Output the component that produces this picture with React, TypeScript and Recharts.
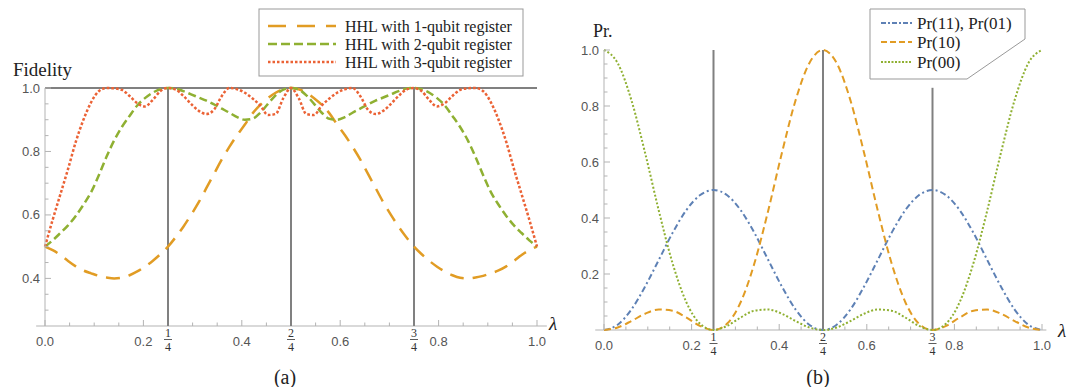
import React from 'react';
import { LineChart, Line, XAxis, YAxis, ReferenceLine } from 'recharts';

// ---- panel (a): fidelity vs lambda, sampled every 1/64 ----
const lambdaA = [
  0, 0.015625, 0.03125, 0.046875, 0.0625, 0.078125, 0.09375, 0.109375, 0.125, 0.140625, 0.15625,
  0.171875, 0.1875, 0.203125, 0.21875, 0.234375, 0.25, 0.265625, 0.28125, 0.296875, 0.3125,
  0.328125, 0.34375, 0.359375, 0.375, 0.390625, 0.40625, 0.421875, 0.4375, 0.453125, 0.46875,
  0.484375, 0.5, 0.515625, 0.53125, 0.546875, 0.5625, 0.578125, 0.59375, 0.609375, 0.625,
  0.640625, 0.65625, 0.671875, 0.6875, 0.703125, 0.71875, 0.734375, 0.75, 0.765625, 0.78125,
  0.796875, 0.8125, 0.828125, 0.84375, 0.859375, 0.875, 0.890625, 0.90625, 0.921875, 0.9375,
  0.953125, 0.96875, 0.984375, 1,
];
const fidelity1 = [
  0.5, 0.489, 0.474, 0.455, 0.438, 0.425, 0.416, 0.408, 0.403, 0.4, 0.402, 0.41, 0.422, 0.437,
  0.455, 0.476, 0.5, 0.53, 0.563, 0.6, 0.64, 0.685, 0.73, 0.775, 0.815, 0.852, 0.885, 0.92, 0.947,
  0.968, 0.985, 0.996, 1.0, 0.996, 0.985, 0.968, 0.947, 0.92, 0.885, 0.852, 0.815, 0.775, 0.73,
  0.685, 0.64, 0.6, 0.563, 0.53, 0.5, 0.476, 0.455, 0.437, 0.422, 0.41, 0.402, 0.4, 0.403, 0.408,
  0.416, 0.425, 0.438, 0.455, 0.474, 0.489, 0.5,
];
const fidelity2 = [
  0.5, 0.52, 0.543, 0.567, 0.597, 0.632, 0.672, 0.725, 0.783, 0.835, 0.877, 0.912, 0.945, 0.968,
  0.985, 0.996, 1.0, 0.998, 0.99, 0.98, 0.97, 0.96, 0.948, 0.935, 0.922, 0.908, 0.9, 0.903, 0.922,
  0.95, 0.977, 0.995, 1.0, 0.995, 0.977, 0.95, 0.922, 0.903, 0.9, 0.908, 0.922, 0.935, 0.948, 0.96,
  0.97, 0.98, 0.99, 0.998, 1.0, 0.996, 0.985, 0.968, 0.945, 0.912, 0.877, 0.835, 0.783, 0.725,
  0.672, 0.632, 0.597, 0.567, 0.543, 0.52, 0.5,
];
const fidelity3 = [
  0.5, 0.585, 0.665, 0.745, 0.83, 0.9, 0.955, 0.99, 1.0, 0.999, 0.994, 0.975, 0.952, 0.942, 0.962,
  0.99, 1.0, 0.995, 0.975, 0.95, 0.928, 0.918, 0.932, 0.975, 1.0, 0.996, 0.985, 0.967, 0.945, 0.915,
  0.918, 0.968, 1.0, 0.968, 0.918, 0.915, 0.945, 0.967, 0.985, 0.996, 1.0, 0.975, 0.932, 0.918,
  0.928, 0.95, 0.975, 0.995, 1.0, 0.99, 0.962, 0.942, 0.952, 0.975, 0.994, 0.999, 1.0, 0.99, 0.955,
  0.9, 0.83, 0.745, 0.665, 0.585, 0.5,
];

// ---- panel (b): measurement probabilities, sampled every 1/32 ----
const lambdaB = [
  0, 0.03125, 0.0625, 0.09375, 0.125, 0.15625, 0.1875, 0.21875, 0.25, 0.28125, 0.3125, 0.34375,
  0.375, 0.40625, 0.4375, 0.46875, 0.5, 0.53125, 0.5625, 0.59375, 0.625, 0.65625, 0.6875, 0.71875,
  0.75, 0.78125, 0.8125, 0.84375, 0.875, 0.90625, 0.9375, 0.96875, 1,
];
const pr11 = [
  0, 0.019, 0.073, 0.155, 0.25, 0.346, 0.427, 0.481, 0.5, 0.481, 0.427, 0.346, 0.25, 0.155, 0.073,
  0.019, 0, 0.019, 0.073, 0.155, 0.25, 0.346, 0.427, 0.481, 0.5, 0.481, 0.427, 0.346, 0.25, 0.155,
  0.073, 0.019, 0,
];
const pr10 = [
  0, 0.009, 0.032, 0.058, 0.073, 0.069, 0.045, 0.015, 0, 0.023, 0.101, 0.24, 0.427, 0.633, 0.821,
  0.953, 1, 0.953, 0.821, 0.633, 0.427, 0.24, 0.101, 0.023, 0, 0.015, 0.045, 0.069, 0.073, 0.058,
  0.032, 0.009, 0,
];
const pr00 = [
  1, 0.953, 0.821, 0.633, 0.427, 0.24, 0.101, 0.023, 0, 0.015, 0.045, 0.069, 0.073, 0.058, 0.032,
  0.009, 0, 0.009, 0.032, 0.058, 0.073, 0.069, 0.045, 0.015, 0, 0.023, 0.101, 0.24, 0.427, 0.633,
  0.821, 0.953, 1,
];

// ticks
const xTicks = [
  0, 0.05, 0.1, 0.15, 0.2, 0.25, 0.3, 0.35, 0.4, 0.45, 0.5, 0.55, 0.6, 0.65, 0.7, 0.75, 0.8, 0.85,
  0.9, 0.95, 1,
];
const xMajor = [0, 0.2, 0.4, 0.6, 0.8, 1];
const fractionTicks = [
  { value: 0.25, num: '1', den: '4' },
  { value: 0.5, num: '2', den: '4' },
  { value: 0.75, num: '3', den: '4' },
];
const yTicksA = [0.3, 0.35, 0.4, 0.45, 0.5, 0.55, 0.6, 0.65, 0.7, 0.75, 0.8, 0.85, 0.9, 0.95, 1];
const yMajorA = [0.4, 0.6, 0.8, 1];
const yTicksB = [
  0.05, 0.1, 0.15, 0.2, 0.25, 0.3, 0.35, 0.4, 0.45, 0.5, 0.55, 0.6, 0.65, 0.7, 0.75, 0.8, 0.85, 0.9,
  0.95, 1,
];
const yMajorB = [0.2, 0.4, 0.6, 0.8, 1];

// vertical marker lines at 1/4, 2/4, 3/4
const markerLambdas = [0.25, 0.5, 0.75];
const markerTopsB = [1, 1, 0.865];

const legendA = ['HHL with 1-qubit register', 'HHL with 2-qubit register', 'HHL with 3-qubit register'];
const legendB = ['Pr(11), Pr(01)', 'Pr(10)', 'Pr(00)'];

const ORANGE = '#E19C24';
const GREEN = '#8FB032';
const RED = '#EB6235';
const BLUE = '#5E81B5';
const AXIS = '#b3b3b3';
const MARK = '#808080';
const SANS = '"Liberation Sans", Arial, sans-serif';
const SERIF = '"Liberation Serif", serif';

const dataA = lambdaA.map((l, i) => ({ lambda: l, q1: fidelity1[i], q2: fidelity2[i], q3: fidelity3[i] }));
const dataB = lambdaB.map((l, i) => ({ lambda: l, p11: pr11[i], p10: pr10[i], p00: pr00[i] }));

const near = (a: number, b: number) => Math.abs(a - b) < 1e-6;

const serifStyle = { fontFamily: SERIF };

const renderXTick = (props: any) => {
  const { x, y, payload } = props;
  const v = payload.value;
  const major = xMajor.some((m) => near(m, v));
  const frac = fractionTicks.find((f) => near(f.value, v));
  return (
    <g key={`xt-${v}`}>
      {!frac && <line x1={x} x2={x} y1={y} y2={y - (major ? 6 : 3.5)} stroke={AXIS} strokeWidth={1} />}
      {major && (
        <text x={x} y={y + 15} textAnchor="middle" dominantBaseline="central" fontSize={13} style={{ fontFamily: SANS }} fill="#555">
          {v.toFixed(1)}
        </text>
      )}
      {frac && (
        <g>
          <text x={x} y={y + 7} textAnchor="middle" dominantBaseline="central" fontSize={12} style={serifStyle} fill="#333">
            {frac.num}
          </text>
          <line x1={x - 4} x2={x + 4} y1={y + 13.5} y2={y + 13.5} stroke="#333" strokeWidth={0.8} />
          <text x={x} y={y + 21} textAnchor="middle" dominantBaseline="central" fontSize={12} style={serifStyle} fill="#333">
            {frac.den}
          </text>
        </g>
      )}
    </g>
  );
};

const makeYTick = (majors: number[]) => (props: any) => {
  const { x, y, payload } = props;
  const v = payload.value;
  const major = majors.some((m) => near(m, v));
  return (
    <g key={`yt-${v}`}>
      <line x1={x} x2={x + (major ? 6 : 3.5)} y1={y} y2={y} stroke={AXIS} strokeWidth={1} />
      {major && (
        <text x={x - 5} y={y} textAnchor="end" dominantBaseline="central" fontSize={13} style={{ fontFamily: SANS }} fill="#555">
          {v.toFixed(1)}
        </text>
      )}
    </g>
  );
};

function LegendRow({ x1, x2, y, color, dash, width, label, tx, size }: any) {
  return (
    <g>
      <line x1={x1} x2={x2} y1={y} y2={y} stroke={color} strokeWidth={width} strokeDasharray={dash} />
      <text x={tx} y={y} dominantBaseline="central" fontSize={size} style={serifStyle} fill="#222">
        {label}
      </text>
    </g>
  );
}

export default function App() {
  return (
    <div style={{ position: 'absolute', left: 0, top: 0, width: 1077, height: 387, background: '#fff', overflow: 'hidden' }}>
      <div style={{ position: 'absolute', left: 0, top: 0 }}>
        <LineChart width={570} height={387} data={dataA} margin={{ top: 88, right: 33, bottom: 31, left: 5 }}>
          <XAxis
            dataKey="lambda"
            type="number"
            domain={[0, 1]}
            ticks={xTicks}
            interval={0}
            tickSize={0}
            tickMargin={0}
            tickLine={false}
            axisLine={false}
            height={30}
            tick={renderXTick}
          />
          <YAxis
            type="number"
            domain={[0.25, 1]}
            ticks={yTicksA}
            interval={0}
            width={40}
            tickSize={0}
            tickMargin={0}
            tickLine={false}
            axisLine={{ stroke: AXIS }}
            tick={makeYTick(yMajorA)}
          />
          <ReferenceLine
            segment={[{ x: -0.018, y: 0.25 }, { x: 1.02, y: 0.25 }]}
            stroke={AXIS}
            strokeWidth={1}
            ifOverflow="visible"
          />
          <ReferenceLine y={1} stroke={MARK} strokeWidth={2} ifOverflow="visible" />
          {markerLambdas.map((m) => (
            <ReferenceLine key={`ma-${m}`} segment={[{ x: m, y: 0.25 }, { x: m, y: 1 }]} stroke={MARK} strokeWidth={2} />
          ))}
          <Line type="monotone" dataKey="q1" stroke={ORANGE} strokeWidth={2.5} strokeDasharray="14 9" dot={false} activeDot={false} isAnimationActive={false} />
          <Line type="monotone" dataKey="q2" stroke={GREEN} strokeWidth={2.5} strokeDasharray="8 4" dot={false} activeDot={false} isAnimationActive={false} />
          <Line type="monotone" dataKey="q3" stroke={RED} strokeWidth={2.5} strokeDasharray="2.7 2" dot={false} activeDot={false} isAnimationActive={false} />
        </LineChart>
      </div>

      <div style={{ position: 'absolute', left: 540, top: 0 }}>
        <LineChart width={537} height={387} data={dataB} margin={{ top: 50, right: 35, bottom: 27, left: 4 }}>
          <XAxis
            dataKey="lambda"
            type="number"
            domain={[0, 1]}
            ticks={xTicks}
            interval={0}
            tickSize={0}
            tickMargin={0}
            tickLine={false}
            axisLine={false}
            height={30}
            tick={renderXTick}
          />
          <YAxis
            type="number"
            domain={[0, 1]}
            ticks={yTicksB}
            interval={0}
            width={60}
            tickSize={0}
            tickMargin={0}
            tickLine={false}
            axisLine={{ stroke: AXIS }}
            tick={makeYTick(yMajorB)}
          />
          <ReferenceLine
            segment={[{ x: -0.02, y: 0 }, { x: 1.01, y: 0 }]}
            stroke={AXIS}
            strokeWidth={1}
            ifOverflow="visible"
          />
          {markerLambdas.map((m, i) => (
            <ReferenceLine key={`mb-${m}`} segment={[{ x: m, y: 0 }, { x: m, y: markerTopsB[i] }]} stroke={MARK} strokeWidth={2} />
          ))}
          <Line type="monotone" dataKey="p11" stroke={BLUE} strokeWidth={2} strokeDasharray="6 3 2 3" dot={false} activeDot={false} isAnimationActive={false} />
          <Line type="monotone" dataKey="p10" stroke={ORANGE} strokeWidth={2} strokeDasharray="7 4" dot={false} activeDot={false} isAnimationActive={false} />
          <Line type="monotone" dataKey="p00" stroke={GREEN} strokeWidth={2} strokeDasharray="2 2" dot={false} activeDot={false} isAnimationActive={false} />
        </LineChart>
      </div>

      <svg width={1077} height={387} style={{ position: 'absolute', left: 0, top: 0, pointerEvents: 'none' }}>
        {/* panel (a) texts */}
        <text x={13} y={69} dominantBaseline="central" fontSize={19} style={serifStyle} fill="#222">Fidelity</text>
        <text x={553} y={323} textAnchor="middle" dominantBaseline="central" fontSize={19} fontStyle="italic" style={serifStyle} fill="#222">λ</text>
        <text x={285} y={377} textAnchor="middle" dominantBaseline="central" fontSize={20} style={serifStyle} fill="#222">(a)</text>
        <rect x={259} y={9} width={264} height={67} fill="#fff" stroke="#999" strokeWidth={1} />
        <LegendRow x1={268} x2={336} y={26} color={ORANGE} dash="18 11" width={2.5} label={legendA[0]} tx={345} size={16} />
        <LegendRow x1={268} x2={336} y={44} color={GREEN} dash="9 4" width={2.5} label={legendA[1]} tx={345} size={16} />
        <LegendRow x1={268} x2={336} y={62} color={RED} dash="2.5 2" width={2.5} label={legendA[2]} tx={345} size={16} />

        {/* panel (b) texts */}
        <text x={593} y={31} dominantBaseline="central" fontSize={18} style={serifStyle} fill="#222">Pr.</text>
        <text x={1062} y={330} textAnchor="middle" dominantBaseline="central" fontSize={19} fontStyle="italic" style={serifStyle} fill="#222">λ</text>
        <text x={818} y={377} textAnchor="middle" dominantBaseline="central" fontSize={20} style={serifStyle} fill="#222">(b)</text>
        <polygon points="870,9 1025,9 1025,39 967,79 870,79" fill="#fff" stroke="#999" strokeWidth={1} />
        <LegendRow x1={881} x2={912} y={23} color={BLUE} dash="5 2 2 2" width={2} label={legendB[0]} tx={917} size={17} />
        <LegendRow x1={881} x2={912} y={42} color={ORANGE} dash="6 3" width={2} label={legendB[1]} tx={917} size={17} />
        <LegendRow x1={881} x2={912} y={62} color={GREEN} dash="2 1.5" width={2} label={legendB[2]} tx={917} size={17} />
      </svg>
    </div>
  );
}
